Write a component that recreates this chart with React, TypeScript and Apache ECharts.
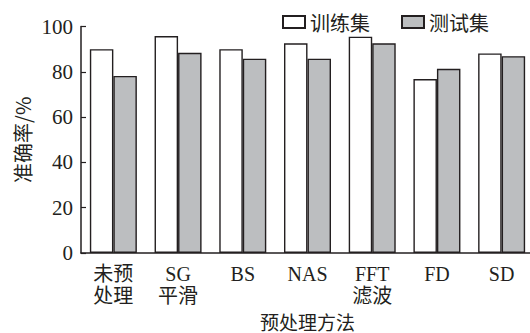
import React, { useEffect, useRef } from "react";
import * as echarts from "echarts";

// Preprocessing methods (x categories)
const categories = ["未预\n处理", "SG\n平滑", "BS", "NAS", "FFT\n滤波", "FD", "SD"];
// Accuracy (%) on the training set and test set
const trainAcc = [90, 95.8, 90, 92.6, 95.5, 76.8, 88.1];
const testAcc = [78.2, 88.4, 85.8, 85.8, 92.6, 81.3, 86.9];
const seriesNames = ["训练集", "测试集"];
const yTicks = { min: 0, max: 100, interval: 20 };

const INK = "#231f20";
const SERIF = "'Liberation Serif', 'Noto Sans CJK SC', serif";
const SANS = "'Noto Sans CJK SC', sans-serif";

export default function App() {
  const ref = useRef<HTMLDivElement>(null);

  useEffect(() => {
    if (!ref.current) return;
    const chart = echarts.init(ref.current, undefined, { renderer: "svg" });
    chart.setOption({
      animation: false,
      backgroundColor: "#ffffff",
      legend: {
        left: 277,
        top: 7,
        itemWidth: 22,
        itemHeight: 12,
        itemGap: 31,
        icon: "rect",
        textStyle: { fontFamily: SANS, fontSize: 20, color: INK },
        data: seriesNames,
      },
      grid: {
        left: 81,
        right: -4,
        top: 26.5,
        bottom: 80,
        containLabel: false,
        outerBoundsMode: "none",
      },
      xAxis: {
        type: "category",
        data: categories,
        name: "预处理方法",
        nameLocation: "middle",
        nameGap: 58,
        nameMoveOverlap: false,
        nameTextStyle: { fontFamily: SANS, fontSize: 19, lineHeight: 20, color: INK },
        axisLine: { lineStyle: { color: INK, width: 1.5 } },
        axisTick: { inside: true, length: 6, lineStyle: { color: INK, width: 1.2 } },
        axisLabel: {
          fontFamily: SERIF,
          fontSize: 20,
          lineHeight: 22,
          color: INK,
          margin: 10,
          interval: 0,
        },
      },
      yAxis: {
        type: "value",
        min: yTicks.min,
        max: yTicks.max,
        interval: yTicks.interval,
        name: "准确率/%",
        nameLocation: "middle",
        nameRotate: 90,
        nameGap: 49,
        nameMoveOverlap: false,
        nameTextStyle: { fontFamily: SANS, fontSize: 20, color: INK },
        splitLine: { show: false },
        axisLine: { show: true, lineStyle: { color: INK, width: 1.5 } },
        axisTick: { show: true, inside: true, length: 5, lineStyle: { color: INK, width: 1.2 } },
        axisLabel: { fontFamily: SERIF, fontSize: 21, color: INK, margin: 8 },
      },
      series: [
        {
          name: seriesNames[0],
          type: "bar",
          data: trainAcc,
          barWidth: 23.5,
          barGap: "0%",
          itemStyle: { color: "#ffffff", borderColor: INK, borderWidth: 1.4 },
        },
        {
          name: seriesNames[1],
          type: "bar",
          data: testAcc,
          barWidth: 23.5,
          barGap: "0%",
          itemStyle: { color: "#bcbec0", borderColor: INK, borderWidth: 1.4 },
        },
      ],
    });
    return () => chart.dispose();
  }, []);

  return (
    <div
      ref={ref}
      style={{ position: "fixed", left: 0, top: 0, width: 530, height: 333 }}
    />
  );
}
